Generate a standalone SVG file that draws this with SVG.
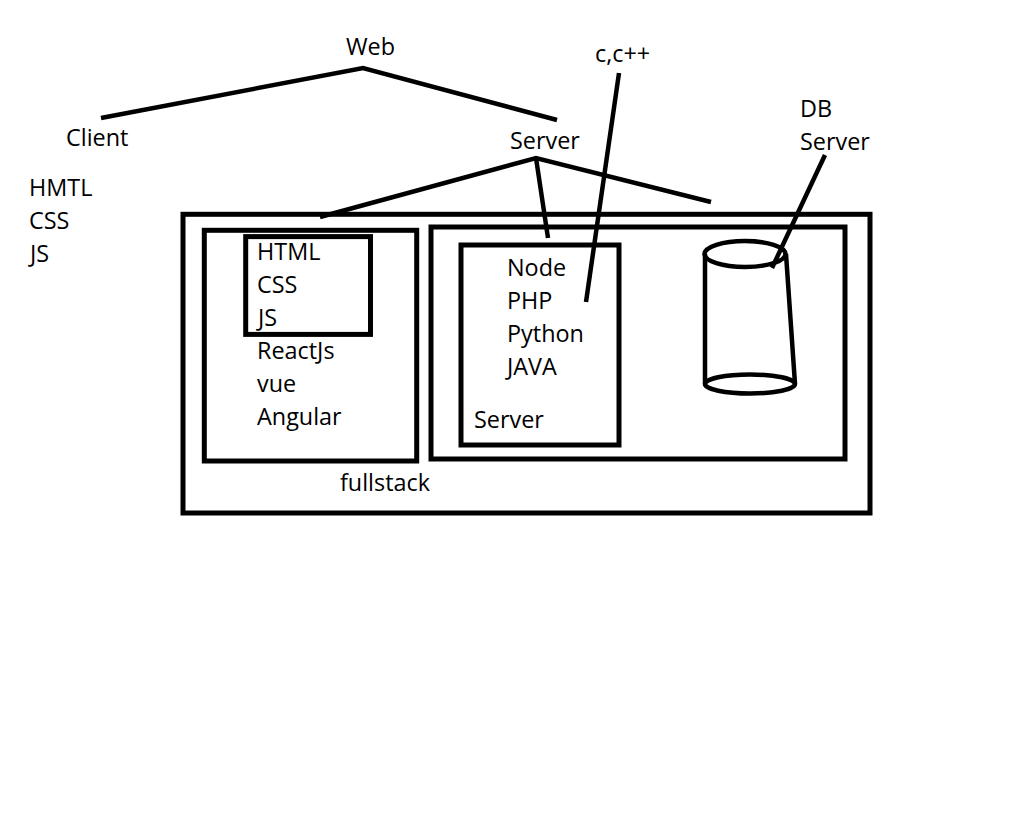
<svg xmlns="http://www.w3.org/2000/svg" width="1024" height="813" viewBox="0 0 1024 813">
<style>
text{font-family:"Open Sans","Noto Sans","DejaVu Sans",sans-serif;font-size:23.4px;fill:#000}
.b{fill:none;stroke:#000;stroke-width:5}
.l{fill:none;stroke:#000;stroke-width:4.5}
</style>
<rect width="1024" height="813" fill="#fff"/>
<g id="connectors">
<path class="l" d="M101 118L363 68L557 120"/>
<path class="l" d="M320 217L536 158L711 202"/>
<path class="l" d="M536 158L548 238"/>
<path class="l" d="M619 73L586 302"/>
<path class="l" d="M825 155L772 268"/>
</g>
<g id="fullstack"><rect class="b" x="183" y="214.3" width="687" height="298.7"/><text x="340" y="491">fullstack</text></g>
<g id="client-box"><rect class="b" x="204.3" y="230.3" width="212.4" height="230.7"/>
<text x="257" y="359">ReactJs</text><text x="257" y="392">vue</text><text x="257" y="425">Angular</text></g>
<g id="html-box"><rect class="b" x="245.7" y="236.6" width="124.8" height="97.8"/>
<text x="257" y="260">HTML</text><text x="257" y="293">CSS</text><text x="258" y="326">JS</text></g>
<g id="server-box"><rect class="b" x="431" y="227" width="414" height="232"/></g>
<g id="inner-server"><rect class="b" x="461" y="245" width="158" height="200"/>
<text x="507" y="276">Node</text><text x="507" y="309">PHP</text><text x="507" y="342">Python</text><text x="507" y="375">JAVA</text><text x="474" y="428">Server</text></g>
<g id="db"><ellipse class="l" cx="745" cy="254" rx="40.5" ry="13"/><ellipse class="l" cx="750" cy="384" rx="45" ry="9.5"/>
<path class="l" d="M705 254V384M786 254L795 384"/></g>
<g id="web"><text x="346" y="55">Web</text></g>
<g id="client"><text x="66" y="146">Client</text></g>
<g id="server"><text x="510" y="149">Server</text></g>
<g id="cpp"><text x="595" y="62">c,c++</text></g>
<g id="dbserver"><text x="800" y="117">DB</text><text x="800" y="150">Server</text></g>
<g id="hmtl"><text x="29" y="196">HMTL</text><text x="29" y="229">CSS</text><text x="30" y="262">JS</text></g>
</svg>
